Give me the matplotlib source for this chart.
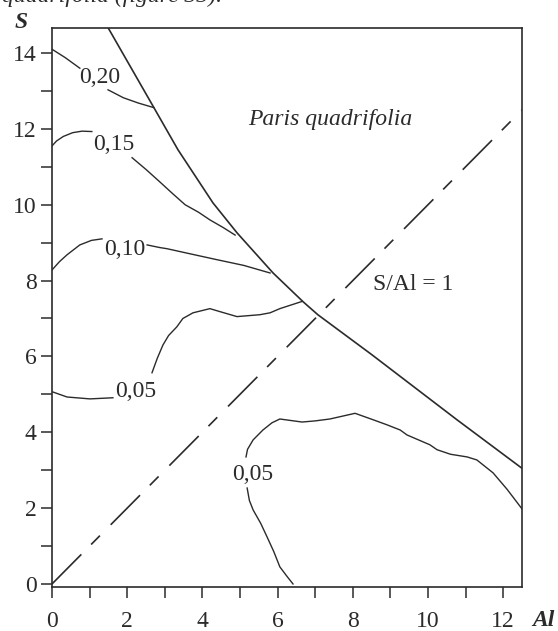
import matplotlib
matplotlib.use("Agg")
import matplotlib.pyplot as plt
from matplotlib.ticker import MultipleLocator

plt.rcParams["font.family"] = ["Liberation Serif", "DejaVu Serif"]
plt.rcParams["lines.scale_dashes"] = False

INK = "#2b2b2b"
FS = 17

# boundary of the fitted region
boundary_al = [1.49, 2.71, 3.35, 4.28, 4.92, 5.88, 6.68, 7.07, 8.5, 10.77, 12.5]
boundary_s = [14.67, 12.56, 11.45, 10.05, 9.26, 8.2, 7.44, 7.1, 6.05, 4.33, 3.05]

# S/Al = 1
ratio_al = [0, 12.5]
ratio_s = [0, 12.5]

# contour pieces (split at the labels)
c20_a_al = [0.0, 0.35, 0.74]
c20_a_s = [14.1, 13.88, 13.6]
c20_b_al = [1.49, 1.9, 2.3, 2.71]
c20_b_s = [13.03, 12.82, 12.68, 12.56]

c15_a_al = [0.0, 0.12, 0.3, 0.55, 0.8, 1.06]
c15_a_s = [11.55, 11.68, 11.8, 11.9, 11.94, 11.93]
c15_b_al = [2.13, 2.5, 2.87, 3.2, 3.54, 3.9, 4.2, 4.55, 4.87]
c15_b_s = [11.24, 10.93, 10.6, 10.3, 10.0, 9.8, 9.6, 9.4, 9.2]

c10_a_al = [0.0, 0.2, 0.4, 0.74, 1.05, 1.33]
c10_a_s = [8.28, 8.5, 8.68, 8.94, 9.06, 9.1]
c10_b_al = [2.53, 2.87, 3.06, 3.7, 4.39, 5.1, 5.8]
c10_b_s = [8.94, 8.87, 8.84, 8.7, 8.55, 8.4, 8.2]

c05_a_al = [0.0, 0.4, 1.01, 1.62]
c05_a_s = [5.07, 4.93, 4.88, 4.91]
c05_b_al = [2.66, 2.8, 2.95, 3.1, 3.32, 3.48, 3.75, 4.2, 4.47, 4.92, 5.53, 5.8, 6.06, 6.65]
c05_b_s = [5.57, 5.95, 6.3, 6.55, 6.78, 7.0, 7.15, 7.26, 7.18, 7.05, 7.1, 7.15, 7.26, 7.45]

c05_c_al = [5.16, 5.2, 5.35, 5.61, 5.85, 6.06, 6.65, 7.0, 7.39, 8.06, 8.54, 8.9, 9.26, 9.44,
            10.05, 10.24, 10.6, 11.04, 11.3, 11.73, 12.1, 12.5]
c05_c_s = [3.35, 3.55, 3.8, 4.06, 4.25, 4.35, 4.27, 4.3, 4.35, 4.5, 4.33, 4.2, 4.06, 3.93,
           3.67, 3.54, 3.42, 3.35, 3.27, 2.93, 2.5, 1.98]
c05_d_al = [5.19, 5.25, 5.35, 5.55, 5.72, 5.9, 6.06, 6.25, 6.41]
c05_d_s = [2.53, 2.2, 1.95, 1.6, 1.24, 0.85, 0.45, 0.2, 0.0]

# contour labels: text, x, baseline y
label_text = ["0,20", "0,15", "0,10", "0,05", "0,05"]
label_al = [1.28, 1.65, 1.94, 2.23, 5.35]
label_s = [13.21, 11.44, 8.67, 4.93, 2.74]

x_ticks = [0, 2, 4, 6, 8, 10, 12]
y_ticks = [0, 2, 4, 6, 8, 10, 12, 14]

fig = plt.figure(figsize=(5.58, 6.31), dpi=100)
ax = fig.add_axes([52 / 558, 1 - 587 / 631, 470 / 558, 559 / 631])
ax.set_xlim(0, 12.5)
ax.set_ylim(-0.08, 14.66)

ax.plot(boundary_al, boundary_s, color=INK, lw=1.2, solid_capstyle="butt")
ax.plot(ratio_al, ratio_s, color=INK, lw=1.2, dashes=(30, 10, 9, 11))

pieces = [(c20_a_al, c20_a_s), (c20_b_al, c20_b_s), (c15_a_al, c15_a_s), (c15_b_al, c15_b_s),
          (c10_a_al, c10_a_s), (c10_b_al, c10_b_s), (c05_a_al, c05_a_s), (c05_b_al, c05_b_s),
          (c05_c_al, c05_c_s), (c05_d_al, c05_d_s)]
for xs, ys in pieces:
    ax.plot(xs, ys, color=INK, lw=1.0)

for t, x, y in zip(label_text, label_al, label_s):
    ax.text(x, y, t, ha="center", va="baseline", fontsize=FS, color=INK)

ax.text(5.22, 12.1, "Paris quadrifolia", style="italic", fontsize=FS, ha="left",
        va="baseline", color=INK)
ax.text(8.54, 7.75, "S/Al = 1", fontsize=FS, ha="left", va="baseline", color=INK)

ax.set_xticks(x_ticks)
ax.set_yticks(y_ticks)
ax.xaxis.set_minor_locator(MultipleLocator(1))
ax.yaxis.set_minor_locator(MultipleLocator(1))
ax.tick_params(which="both", direction="out", length=8, width=1.1, color=INK,
               labelsize=FS, labelcolor=INK)
ax.tick_params(axis="x", which="both", pad=9)
ax.tick_params(axis="y", which="both", pad=3)
for sp in ax.spines.values():
    sp.set_linewidth(1.2)
    sp.set_color(INK)

fig.text(543 / 558, 1 - 620 / 631, "Al", style="italic", weight="bold", fontsize=FS,
         ha="center", va="center", color=INK)
fig.text(21 / 558, 1 - 22 / 631, "S", style="italic", weight="bold", fontsize=FS,
         ha="center", va="center", color=INK)
# cropped caption line at the very top, as in the source scan
fig.text(2 / 558, 1 - 2 / 631, "quadrifolia (figure 33).", style="italic", fontsize=FS,
         ha="left", va="baseline", color=INK)

fig.savefig("out.png", dpi=100)
